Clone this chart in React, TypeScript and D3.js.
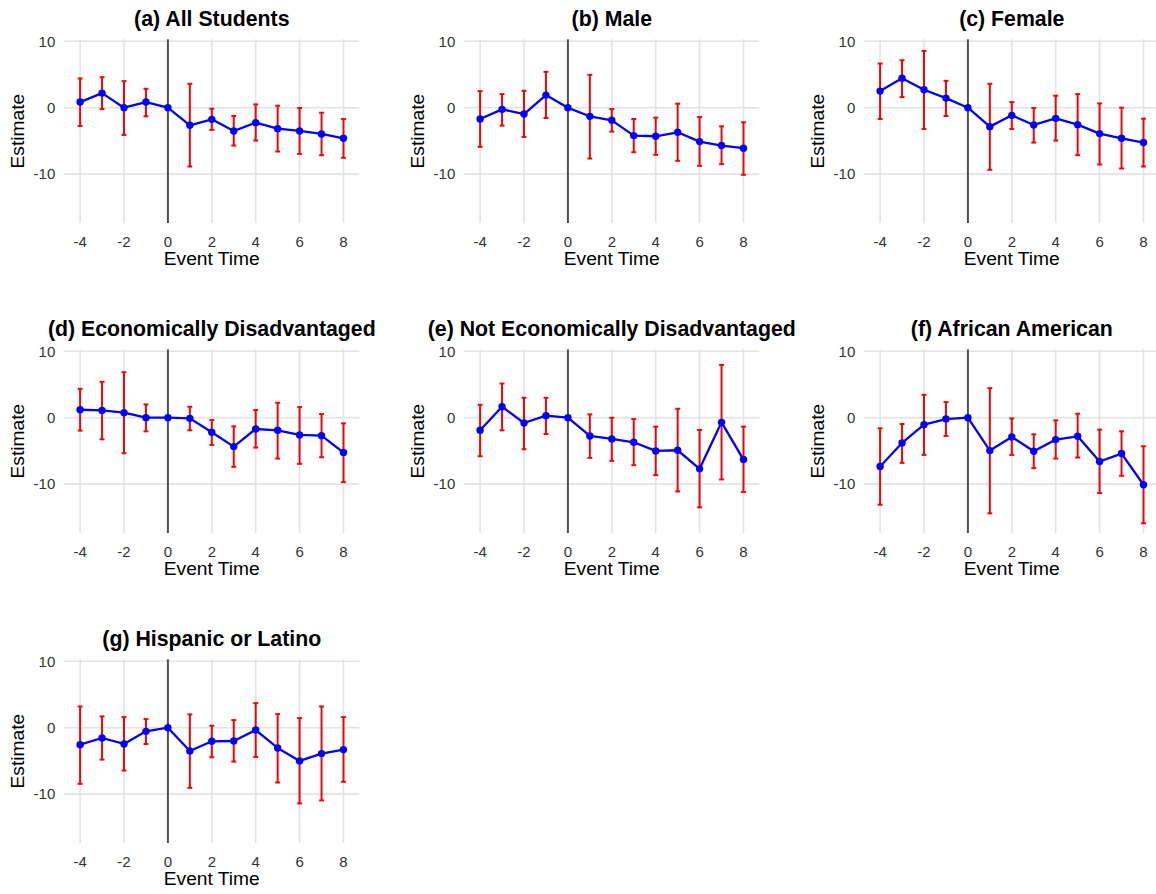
import React from 'react';
import * as d3 from 'd3';

// Event-study estimates with 95% confidence bounds (reference period t = 0 has no interval)
const eventTimes = [-4, -3, -2, -1, 0, 1, 2, 3, 4, 5, 6, 7, 8];
const xTicks = [-4, -2, 0, 2, 4, 6, 8];
const yTicks = [-10, 0, 10];

const panelTitles = [
  '(a) All Students',
  '(b) Male',
  '(c) Female',
  '(d) Economically Disadvantaged',
  '(e) Not Economically Disadvantaged',
  '(f) African American',
  '(g) Hispanic or Latino',
];

const allEst = [0.85, 2.2, 0, 0.85, 0, -2.65, -1.75, -3.5, -2.25, -3.15, -3.5, -3.95, -4.6];
const allLo = [-2.75, -0.2, -4.1, -1.3, null, -8.85, -3.35, -5.7, -4.95, -6.6, -6.95, -7.15, -7.55];
const allHi = [4.4, 4.6, 4.0, 2.85, null, 3.6, -0.15, -1.25, 0.5, 0.3, -0.05, -0.75, -1.7];

const maleEst = [-1.7, -0.25, -0.95, 1.9, 0, -1.3, -1.9, -4.2, -4.3, -3.7, -5.1, -5.7, -6.1];
const maleLo = [-5.9, -2.7, -4.4, -1.55, null, -7.65, -3.6, -6.7, -7.1, -8.0, -8.75, -8.5, -10.1];
const maleHi = [2.5, 2.05, 2.55, 5.4, null, 4.95, -0.2, -1.7, -1.5, 0.6, -1.4, -2.8, -2.2];

const femaleEst = [2.5, 4.45, 2.7, 1.45, 0, -2.85, -1.15, -2.6, -1.6, -2.55, -3.9, -4.6, -5.25];
const femaleLo = [-1.7, 1.6, -3.2, -1.25, null, -9.35, -3.2, -5.25, -4.95, -7.15, -8.55, -9.15, -8.85];
const femaleHi = [6.65, 7.15, 8.55, 4.05, null, 3.6, 0.85, -0.05, 1.8, 2.05, 0.65, 0, -1.65];

const econEst = [1.2, 1.1, 0.75, 0, 0, -0.1, -2.2, -4.35, -1.7, -1.9, -2.6, -2.7, -5.25];
const econLo = [-1.95, -3.25, -5.35, -2.05, null, -1.9, -4.1, -7.4, -4.5, -6.15, -6.95, -5.95, -9.7];
const econHi = [4.35, 5.4, 6.85, 2.0, null, 1.65, -0.35, -1.3, 1.15, 2.25, 1.6, 0.55, -0.85];

const notEconEst = [-1.9, 1.65, -0.8, 0.3, 0, -2.75, -3.2, -3.7, -5.0, -4.9, -7.7, -0.7, -6.3];
const notEconLo = [-5.8, -1.9, -4.75, -2.45, null, -6.05, -6.5, -7.15, -8.65, -11.1, -13.5, -9.3, -11.2];
const notEconHi = [1.95, 5.15, 3.0, 3.0, null, 0.5, 0, -0.2, -1.35, 1.35, -1.85, 7.95, -1.35];

const afAmEst = [-7.35, -3.8, -1.05, -0.2, 0, -4.95, -2.9, -5.05, -3.3, -2.8, -6.6, -5.4, -10.1];
const afAmLo = [-13.1, -6.8, -5.6, -2.75, null, -14.4, -5.6, -7.6, -6.15, -6.0, -11.35, -8.75, -15.9];
const afAmHi = [-1.6, -0.95, 3.45, 2.35, null, 4.45, -0.1, -2.5, -0.4, 0.6, -1.8, -2.05, -4.3];

const hispEst = [-2.55, -1.55, -2.45, -0.55, 0, -3.5, -2.05, -2.0, -0.35, -3.05, -5.0, -3.9, -3.3];
const hispLo = [-8.45, -4.8, -6.45, -2.45, null, -9.05, -4.45, -5.1, -4.4, -8.25, -11.4, -10.95, -8.15];
const hispHi = [3.2, 1.7, 1.6, 1.3, null, 2.0, 0.3, 1.15, 3.7, 2.05, 1.45, 3.2, 1.6];

type Series = { title: string; est: number[]; lo: (number | null)[]; hi: (number | null)[] };

const panels: Series[] = [
  { title: panelTitles[0], est: allEst, lo: allLo, hi: allHi },
  { title: panelTitles[1], est: maleEst, lo: maleLo, hi: maleHi },
  { title: panelTitles[2], est: femaleEst, lo: femaleLo, hi: femaleHi },
  { title: panelTitles[3], est: econEst, lo: econLo, hi: econHi },
  { title: panelTitles[4], est: notEconEst, lo: notEconLo, hi: notEconHi },
  { title: panelTitles[5], est: afAmEst, lo: afAmLo, hi: afAmHi },
  { title: panelTitles[6], est: hispEst, lo: hispLo, hi: hispHi },
];

const FONT = "'Liberation Sans', Arial, Helvetica, sans-serif";
const PLOT_W = 295;
const PLOT_H = 183.7;
const CELL_W = 400;
const CELL_H = 310;
const PLOT_LEFT = 64.3;
const PLOT_TOP = 39.3;

function Panel({ s, left, top }: { s: Series; left: number; top: number }) {
  const x = d3.scaleLinear().domain([-4.72, 8.72]).range([0, PLOT_W]);
  const y = d3.scaleLinear().domain([-17.36, 10.3]).range([PLOT_H, 0]);
  const line = d3
    .line<number>()
    .x((_, i) => x(eventTimes[i]))
    .y((d) => y(d));
  const capHalf = x(0.11) - x(0);

  return (
    <g transform={`translate(${left},${top})`}>
      {/* grid */}
      {yTicks.map((t) => (
        <line key={`gy${t}`} x1={0} x2={PLOT_W} y1={y(t)} y2={y(t)} stroke="#e3e3e3" strokeWidth={1.6} />
      ))}
      {xTicks.map((t) => (
        <line key={`gx${t}`} x1={x(t)} x2={x(t)} y1={0} y2={PLOT_H} stroke="#e3e3e3" strokeWidth={1.6} />
      ))}
      {/* treatment onset */}
      <line x1={x(0)} x2={x(0)} y1={0} y2={PLOT_H} stroke="#505050" strokeWidth={2} />
      {/* confidence intervals */}
      {eventTimes.map((t, i) => {
        const lo = s.lo[i];
        const hi = s.hi[i];
        if (lo == null || hi == null) return null;
        const cx = x(t);
        return (
          <g key={`ci${t}`} stroke="#ff0000" strokeWidth={2}>
            <line x1={cx} x2={cx} y1={y(hi)} y2={y(lo)} />
            <line x1={cx - capHalf} x2={cx + capHalf} y1={y(hi)} y2={y(hi)} />
            <line x1={cx - capHalf} x2={cx + capHalf} y1={y(lo)} y2={y(lo)} />
          </g>
        );
      })}
      {/* estimates */}
      <path d={line(s.est) || ''} fill="none" stroke="#0000ff" strokeWidth={2.3} strokeLinejoin="round" />
      {s.est.map((v, i) => (
        <circle key={`p${i}`} cx={x(eventTimes[i])} cy={y(v)} r={3.7} fill="#0000ff" />
      ))}
      {/* axis labels */}
      {yTicks.map((t) => (
        <text key={`ty${t}`} x={-9} y={y(t) + 5.3} textAnchor="end" fontSize={15} fill="#333" fontFamily={FONT}>
          {t}
        </text>
      ))}
      {xTicks.map((t) => (
        <text key={`tx${t}`} x={x(t)} y={PLOT_H + 24.3} textAnchor="middle" fontSize={15} fill="#333" fontFamily={FONT}>
          {t}
        </text>
      ))}
      <text x={PLOT_W / 2} y={PLOT_H + 42} textAnchor="middle" fontSize={19.2} fill="#000" fontFamily={FONT}>
        Event Time
      </text>
      <text
        transform={`translate(${-PLOT_LEFT + 23.5},${PLOT_H / 2}) rotate(-90)`}
        textAnchor="middle"
        fontSize={19.2}
        fill="#000"
        fontFamily={FONT}
      >
        Estimate
      </text>
      <text x={PLOT_W / 2} y={-13.6} textAnchor="middle" fontSize={21.3} fontWeight="bold" fill="#000" fontFamily={FONT}>
        {s.title}
      </text>
    </g>
  );
}

export default function App() {
  return (
    <svg
      width={1156}
      height={894}
      style={{ position: 'absolute', left: 0, top: 0, background: '#fff' }}
    >
      <rect width={1156} height={894} fill="#fff" />
      {panels.map((s, i) => (
        <Panel
          key={s.title}
          s={s}
          left={PLOT_LEFT + (i % 3) * CELL_W}
          top={PLOT_TOP + Math.floor(i / 3) * CELL_H}
        />
      ))}
    </svg>
  );
}
